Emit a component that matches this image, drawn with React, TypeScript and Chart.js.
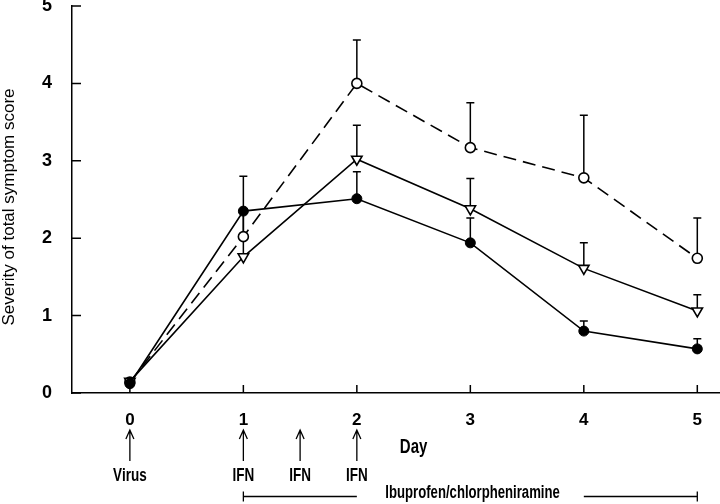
import React, { useEffect, useRef } from "react";
import { Chart, registerables } from "chart.js";
Chart.register(...registerables);

// ---- Data ----
const days = [0, 1, 2, 3, 4, 5];
const xTickValues = [0, 1, 2, 3, 4, 5];
const yTickValues = [0, 1, 2, 3, 4, 5];

const openCircle = [0.14, 2.02, 4.0, 3.17, 2.78, 1.74];
const openCircleErr = [null, 2.33, 4.56, 3.75, 3.59, 2.26];
const triangle = [0.15, 1.76, 3.02, 2.38, 1.61, 1.06];
const triangleErr = [null, 2.33, 3.46, 2.77, 1.94, 1.27];
const filled = [0.12, 2.35, 2.51, 1.94, 0.8, 0.57];
const filledErr = [null, 2.8, 2.86, 2.26, 0.93, 0.7];

const arrowDays = [0, 1, 1.5, 2];
const arrowLabels = ["Virus", "IFN", "IFN", "IFN"];
const treatmentSegments = [
  [1, 2],
  [4, 5],
];
const treatmentLabelDay = 3.02;
const treatmentLabel = "Ibuprofen/chlorpheniramine";
const xTitle = "Day";
const xTitleDay = 2.5;
const yTitle = "Severity of total symptom score";

const X_MIN = -0.51;
const X_MAX = 5.2;

const SANS = '"Liberation Sans", Arial, Helvetica, sans-serif';
const NARROW_SCALE = 0.75;

const toXY = (vals: number[]) => days.map((d, i) => ({ x: d, y: vals[i] }));

function narrowText(ctx: CanvasRenderingContext2D, text: string, x: number, y: number, size: number, scale = NARROW_SCALE) {
  ctx.save();
  ctx.font = `bold ${size}px ${SANS}`;
  ctx.textAlign = "center";
  ctx.textBaseline = "middle";
  ctx.translate(x, y);
  ctx.scale(scale, 1);
  ctx.fillText(text, 0, 0);
  ctx.restore();
}

const annotPlugin = {
  id: "annot",
  beforeDatasetsDraw(chart: any) {
    const ctx = chart.ctx;
    const xs = chart.scales.x;
    const ys = chart.scales.y;
    ctx.save();
    ctx.strokeStyle = "#000";
    ctx.lineWidth = 1.5;
    chart.data.datasets.forEach((ds: any) => {
      const errs = ds.errorTop as (number | null)[];
      if (!errs) return;
      ds.data.forEach((p: any, j: number) => {
        const e = errs[j];
        if (e == null) return;
        const x = xs.getPixelForValue(p.x);
        const y0 = ys.getPixelForValue(p.y);
        const y1 = ys.getPixelForValue(e);
        ctx.beginPath();
        ctx.moveTo(x, y0);
        ctx.lineTo(x, y1);
        ctx.moveTo(x - 4, y1);
        ctx.lineTo(x + 4, y1);
        ctx.stroke();
      });
    });
    ctx.restore();
  },
  afterDraw(chart: any) {
    const ctx = chart.ctx;
    const xs = chart.scales.x;
    const ys = chart.scales.y;
    const area = chart.chartArea;
    const axisY = area.bottom;
    const axisX = area.left;
    ctx.save();
    ctx.strokeStyle = "#000";
    ctx.fillStyle = "#000";
    ctx.lineWidth = 1.5;
    // inward ticks
    ctx.beginPath();
    yTickValues.forEach((v) => {
      const y = ys.getPixelForValue(v);
      ctx.moveTo(axisX, y);
      ctx.lineTo(axisX + 9, y);
    });
    xTickValues.forEach((v) => {
      const x = xs.getPixelForValue(v);
      ctx.moveTo(x, axisY);
      ctx.lineTo(x, axisY - 8);
    });
    ctx.stroke();

    // y title
    ctx.save();
    ctx.translate(9, 207);
    ctx.rotate(-Math.PI / 2);
    ctx.font = `17px ${SANS}`;
    ctx.textAlign = "center";
    ctx.textBaseline = "middle";
    ctx.fillText(yTitle, 0, 0);
    ctx.restore();

    // x title
    narrowText(ctx, xTitle, xs.getPixelForValue(xTitleDay), axisY + 54, 20);

    // arrows and labels
    ctx.lineWidth = 1.3;
    arrowDays.forEach((d, i) => {
      const x = xs.getPixelForValue(d);
      const top = axisY + 37;
      const bot = axisY + 68;
      ctx.beginPath();
      ctx.moveTo(x, bot);
      ctx.lineTo(x, top);
      ctx.moveTo(x - 4, top + 9);
      ctx.lineTo(x, top);
      ctx.lineTo(x + 4, top + 9);
      ctx.stroke();
      narrowText(ctx, arrowLabels[i], x, axisY + 83, 18);
    });

    // treatment bar
    const by = axisY + 103.5;
    narrowText(ctx, treatmentLabel, xs.getPixelForValue(treatmentLabelDay), axisY + 100, 18, 0.73);
    const first = xs.getPixelForValue(treatmentSegments[0][0]);
    const last = xs.getPixelForValue(treatmentSegments[treatmentSegments.length - 1][1]);
    ctx.lineWidth = 1.3;
    ctx.beginPath();
    treatmentSegments.forEach(([a, b]) => {
      ctx.moveTo(xs.getPixelForValue(a), by);
      ctx.lineTo(xs.getPixelForValue(b), by);
    });
    ctx.moveTo(first, by - 5);
    ctx.lineTo(first, by + 5);
    ctx.moveTo(last, by - 5);
    ctx.lineTo(last, by + 5);
    ctx.stroke();
    ctx.restore();
  },
};

export default function App() {
  const ref = useRef<HTMLCanvasElement>(null);
  useEffect(() => {
    document.body.style.margin = "0";
    const chart = new Chart(ref.current as HTMLCanvasElement, {
      type: "line",
      data: {
        datasets: [
          {
            label: "open circle",
            order: 2,
            data: toXY(openCircle),
            errorTop: openCircleErr,
            borderColor: "#000",
            borderWidth: 1.6,
            borderDash: [13, 7],
            pointStyle: "circle",
            pointRadius: 5,
            pointBackgroundColor: "#fff",
            pointBorderColor: "#000",
            pointBorderWidth: 1.6,
            tension: 0,
          } as any,
          {
            label: "triangle",
            order: 1,
            data: toXY(triangle),
            errorTop: triangleErr,
            borderColor: "#000",
            borderWidth: 1.6,
            pointStyle: "triangle",
            pointRotation: 180,
            pointRadius: 6,
            pointBackgroundColor: "#fff",
            pointBorderColor: "#000",
            pointBorderWidth: 1.6,
            tension: 0,
          } as any,
          {
            label: "filled circle",
            order: 0,
            data: toXY(filled),
            errorTop: filledErr,
            borderColor: "#000",
            borderWidth: 1.6,
            pointStyle: "circle",
            pointRadius: 5,
            pointBackgroundColor: "#000",
            pointBorderColor: "#000",
            pointBorderWidth: 1,
            tension: 0,
          } as any,
        ],
      },
      options: {
        responsive: false,
        animation: false,
        layout: { autoPadding: false, padding: { top: 6, left: 0, right: 0, bottom: 0 } },
        plugins: { legend: { display: false }, tooltip: { enabled: false } },
        scales: {
          x: {
            type: "linear",
            min: X_MIN,
            max: X_MAX,
            afterBuildTicks: (s: any) => {
              s.ticks = xTickValues.map((v) => ({ value: v }));
            },
            afterFit: (s: any) => {
              s.height = 111;
              s.paddingLeft = 0;
              s.paddingRight = 0;
            },
            grid: { display: true, drawOnChartArea: false, drawTicks: false },
            border: { display: true, color: "#000", width: 1.5 },
            ticks: {
              color: "#000",
              padding: 17,
              maxRotation: 0,
              autoSkip: false,
              font: { family: SANS, size: 17, weight: "bold" },
            },
          },
          y: {
            type: "linear",
            min: 0,
            max: 5,
            afterBuildTicks: (s: any) => {
              s.ticks = yTickValues.map((v) => ({ value: v }));
            },
            afterFit: (s: any) => {
              s.width = 72;
              s.paddingTop = 0;
              s.paddingBottom = 0;
            },
            grid: { display: true, drawOnChartArea: false, drawTicks: false },
            border: { display: true, color: "#000", width: 1.5 },
            ticks: {
              color: "#000",
              padding: 20,
              font: { family: SANS, size: 18, weight: "bold" },
            },
          },
        },
      } as any,
      plugins: [annotPlugin],
    });
    return () => chart.destroy();
  }, []);
  return (
    <div style={{ width: 720, height: 504, position: "relative" }}>
      <canvas ref={ref} width={720} height={504} style={{ display: "block" }} />
    </div>
  );
}
